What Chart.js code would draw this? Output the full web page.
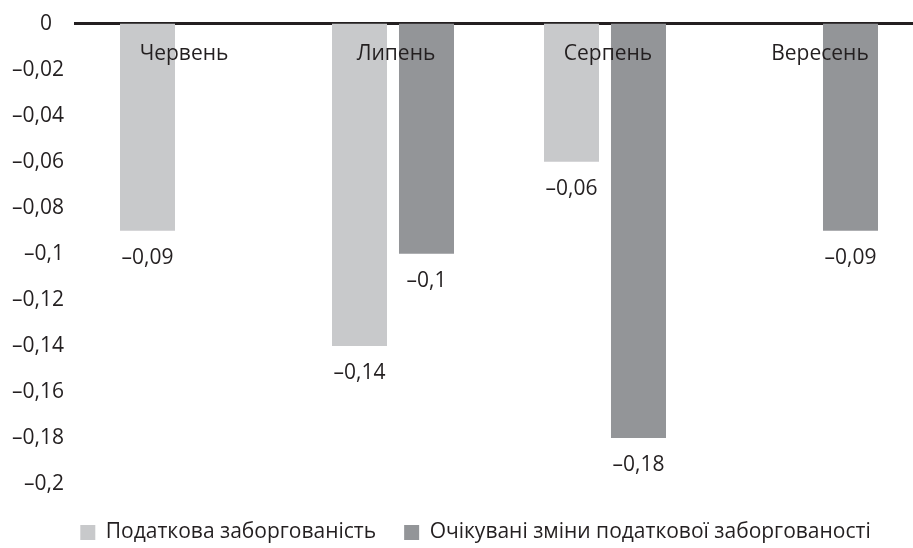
<!DOCTYPE html>
<html>
<head>
<meta charset="utf-8">
<script src="https://cdn.jsdelivr.net/npm/chart.js@4"></script>
<style>
    html, body { margin: 0; padding: 0; overflow: hidden; background: #fff; }
    #wrap { width: 951px; height: 548px; position: relative; }
</style>
</head>
<body>
<div id="wrap"><canvas id="barChart"></canvas></div>
<script>
// Chart data
const categories = ['Червень', 'Липень', 'Серпень', 'Вересень'];
const taxDebt = [-0.09, -0.14, -0.06, null];
const expectedChange = [null, -0.1, -0.18, -0.09];
const seriesNames = ['Податкова заборгованість', 'Очікувані зміни податкової заборгованості'];
const yMin = -0.2;
const yMax = 0;
const yStep = 0.02;

const textColor = '#231f20';
const fontFamily = '"Open Sans", sans-serif';
const fontSize = 21;

// -0.14 -> "–0,14"
function fmt(v) {
    if (Math.abs(v) < 1e-9) return '0';
    let s = Math.abs(v).toFixed(2).replace(/0+$/, '').replace('.', ',');
    return (v < 0 ? '\u2013' : '') + s;
}

// Month names sit just under the zero line, over the bars
const categoryLabelsPlugin = {
    id: 'categoryLabels',
    afterDatasetsDraw: function(chart) {
        const ctx = chart.ctx;
        const xScale = chart.scales.x;
        ctx.save();
        ctx.font = fontSize + 'px ' + fontFamily;
        ctx.fillStyle = textColor;
        ctx.textAlign = 'center';
        ctx.textBaseline = 'middle';
        categories.forEach(function(c, i) {
            ctx.fillText(c, xScale.getPixelForValue(i) + 3, chart.chartArea.top + 30);
        });
        ctx.restore();
    }
};

// Value labels under the end of every bar
const valueLabelsPlugin = {
    id: 'valueLabels',
    afterDatasetsDraw: function(chart) {
        const ctx = chart.ctx;
        ctx.save();
        ctx.font = fontSize + 'px ' + fontFamily;
        ctx.fillStyle = textColor;
        ctx.textAlign = 'center';
        ctx.textBaseline = 'middle';
        chart.data.datasets.forEach(function(ds, di) {
            const meta = chart.getDatasetMeta(di);
            meta.data.forEach(function(bar, i) {
                const v = ds.data[i];
                if (v === null || v === undefined) return;
                ctx.fillText(fmt(v), bar.x, bar.y + 27);
            });
        });
        ctx.restore();
    }
};

// The legend row is centred a bit right of the page centre
const legendShiftPlugin = {
    id: 'legendShift',
    afterLayout: function(chart) {
        if (chart.legend) chart.legend.left += 28;
    }
};

const ctx = document.getElementById('barChart').getContext('2d');
const barChart = new Chart(ctx, {
    type: 'bar',
    data: {
        labels: categories,
        datasets: [{
            label: seriesNames[0],
            data: taxDebt,
            backgroundColor: '#c8c9cb',
            borderWidth: 0
        }, {
            label: seriesNames[1],
            data: expectedChange,
            backgroundColor: '#939598',
            borderWidth: 0
        }]
    },
    options: {
        responsive: true,
        maintainAspectRatio: false,
        animation: false,
        categoryPercentage: 0.632,
        barPercentage: 0.821,
        layout: {
            // canvas is wider than the window; the plot runs past its right edge
            padding: { top: 22, bottom: -5, left: 0, right: 28 }
        },
        scales: {
            x: {
                position: 'top',
                z: 1,
                grid: { display: false, drawTicks: false },
                border: { display: true, color: textColor, width: 3 },
                ticks: { display: false }
            },
            y: {
                min: yMin,
                max: yMax,
                grid: { display: false, drawTicks: false },
                border: { display: false },
                ticks: {
                    stepSize: yStep,
                    padding: 11,
                    color: textColor,
                    font: { family: fontFamily, size: fontSize },
                    callback: function(value) {
                        return Math.abs(value) < 1e-9 ? '0\u2007' : fmt(value);
                    }
                },
                afterFit: function(scale) {
                    scale.width = 75;
                }
            }
        },
        plugins: {
            legend: {
                position: 'bottom',
                // empty title only keeps a gap between the plot and the legend row
                title: {
                    display: true,
                    text: '',
                    font: { size: 10, lineHeight: 1 },
                    padding: 0
                },
                labels: {
                    boxWidth: 15,
                    boxHeight: 15,
                    padding: 28,
                    color: textColor,
                    font: { family: fontFamily, size: fontSize }
                }
            },
            tooltip: { enabled: false }
        }
    },
    plugins: [categoryLabelsPlugin, valueLabelsPlugin, legendShiftPlugin]
});
</script>
</body>
</html>
